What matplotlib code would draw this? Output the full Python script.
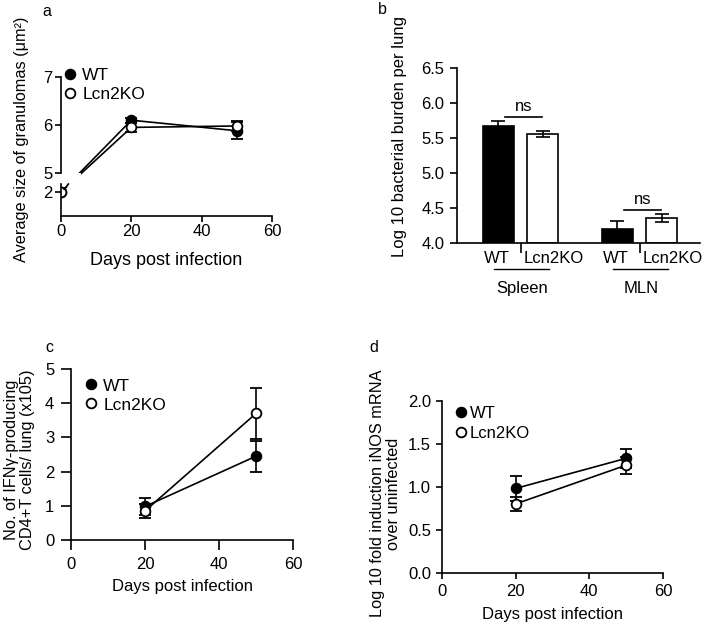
import matplotlib
matplotlib.use("Agg")
import matplotlib.pyplot as plt
from matplotlib.lines import Line2D
from matplotlib.patches import Rectangle

plt.rcParams['font.family'] = ['Liberation Sans', 'DejaVu Sans']

W, H = 704, 627
fig = plt.figure(figsize=(W / 100, H / 100), dpi=100)

def box(x0, x1, ytop, ybot):
    return [x0 / W, 1 - ybot / H, (x1 - x0) / W, (ybot - ytop) / H]

# ---------------- data ----------------
# panel a: granuloma size
a_days = [0, 20, 50]
a_wt = [2.0, 6.10, 5.88]
a_wt_err = [0.0, 0.05, 0.18]
a_ko = [2.0, 5.95, 5.98]
a_ko_err = [0.0, 0.10, 0.10]

# panel b: bacterial burden
b_groups = ["Spleen", "MLN"]
b_labels = ["WT", "Lcn2KO"]
b_wt = [5.67, 4.20]
b_wt_err = [0.08, 0.11]
b_ko = [5.56, 4.36]
b_ko_err = [0.04, 0.06]

# panel c: IFNg producing CD4 T cells
c_days = [20, 50]
c_wt = [0.98, 2.45]
c_wt_err = [0.25, 0.45]
c_ko = [0.85, 3.70]
c_ko_err = [0.20, 0.75]

# panel d: iNOS mRNA
d_days = [20, 50]
d_wt = [0.98, 1.33]
d_wt_err = [0.15, 0.11]
d_ko = [0.80, 1.25]
d_ko_err = [0.08, 0.10]

LW = 1.2
MS = 7

def style(ax, fs, length=4, pad=2):
    for s in ['top', 'right']:
        ax.spines[s].set_visible(False)
    for s in ['left', 'bottom']:
        ax.spines[s].set_linewidth(1.2)
    ax.tick_params(width=1.2, length=length, labelsize=fs, pad=pad)

def legend(ax, x, y, fs, spacing=0.3, tpad=0.15):
    h = [Line2D([], [], ls='none', marker='o', ms=MS, mfc='black', mec='black', mew=1.3),
         Line2D([], [], ls='none', marker='o', ms=MS, mfc='white', mec='black', mew=1.3)]
    ax.legend(h, ["WT", "Lcn2KO"], loc='upper left', bbox_to_anchor=(x, y),
              frameon=False, fontsize=fs, handlelength=0.8, handletextpad=tpad,
              labelspacing=spacing, borderaxespad=0, borderpad=0)

def series(ax, x, y, e, filled, yt=lambda v: v):
    ax.errorbar(x, [yt(v) for v in y], yerr=e, color='black', lw=LW, capsize=4,
                capthick=LW, elinewidth=LW, marker='o', ms=MS,
                mfc='black' if filled else 'white', mec='black', mew=1.3,
                zorder=3 if not filled else 2)

# ---------------- panel a ----------------
ax = fig.add_axes(box(61, 272, 77, 216))
style(ax, 12)
lower = 5 - 19 / 48  # display position of value 2 in broken axis

def ta(v):
    return v if v >= 5 else lower - (2 - v)

series(ax, a_days, a_wt, a_wt_err, True, ta)
series(ax, a_days, a_ko, a_ko_err, False, ta)
ax.set_xlim(0, 60)
ax.set_ylim(5 - 43 / 48, 7)
ax.set_xticks([0, 20, 40, 60])
ax.set_yticks([lower, 5, 6, 7])
ax.set_yticklabels(['2', '5', '6', '7'])
ax.spines['left'].set_visible(False)
ax.plot([0, 0], [5, 7], color='black', lw=1.2, clip_on=False, zorder=5)
ax.plot([0, 0], [5 - 43 / 48, 4.77], color='black', lw=1.2, clip_on=False, zorder=5)
ax.add_patch(Rectangle((0.6, 4.70), 5.2, 0.30, color='white', zorder=4, lw=0))
ax.plot([0.9, 2.1], [4.66, 4.77], color='black', lw=1.2, clip_on=False, zorder=6)
ax.set_xlabel("Days post infection", fontsize=13, labelpad=9)
ax.set_ylabel("Average size of granulomas (μm²)", fontsize=11.7)
ax.yaxis.set_label_coords(-0.15, 0.55)
legend(ax, 0.01, 1.065, 12.5, spacing=0.2, tpad=0.3)

# ---------------- panel b ----------------
ax = fig.add_axes(box(457, 700, 68, 243))
style(ax, 12, length=5, pad=4)
pos_wt = [0, 2.674]
pos_ko = [1, 3.674]
bw = 0.7
ax.bar(pos_wt, [v - 4 for v in b_wt], bottom=4, width=bw, color='black', edgecolor='black', lw=1.2,
       yerr=b_wt_err, error_kw=dict(capsize=5, elinewidth=1.2, capthick=1.2))
ax.bar(pos_ko, [v - 4 for v in b_ko], bottom=4, width=bw, color='white', edgecolor='black', lw=1.2,
       yerr=b_ko_err, error_kw=dict(capsize=5, elinewidth=1.2, capthick=1.2))
ax.set_xlim(-0.93, 4.53)
ax.set_ylim(4.0, 6.5)
ax.set_yticks([4.0, 4.5, 5.0, 5.5, 6.0, 6.5])
ax.set_yticklabels(['4.0', '4.5', '5.0', '5.5', '6.0', '6.5'])
centers = [(a + b) / 2 for a, b in zip(pos_wt, pos_ko)]
ax.set_xticks(centers)
ax.set_xticklabels([])
ax.tick_params(axis='x', length=7)
ax.set_ylabel("Log 10 bacterial burden per lung", fontsize=12)
ax.yaxis.set_label_coords(-0.205, 0.61)
tr = ax.get_xaxis_transform()
for i, (pw, pk) in enumerate(zip(pos_wt, pos_ko)):
    ax.text(pw - 0.04, -0.088, b_labels[0], transform=tr, ha='center', va='center', fontsize=12)
    ax.text(pk + 0.24, -0.088, b_labels[1], transform=tr, ha='center', va='center', fontsize=12)
    ax.plot([pw - 0.1, pk + 0.13], [-0.149, -0.149], transform=tr, color='black', lw=1, clip_on=False)
    ax.text((pw + pk) / 2 + 0.04, -0.258, b_groups[i], transform=tr, ha='center', va='center', fontsize=12)
    top = max(b_wt[i] + b_wt_err[i], b_ko[i] + b_ko_err[i]) + 0.04
    ax.plot([pw + 0.15, pk - 0.03], [top + 0.01, top + 0.01], color='black', lw=1.2)
    ax.text((pw + pk) / 2 + 0.06, top + 0.05, "ns", ha='center', va='bottom', fontsize=12)

# ---------------- panel c ----------------
ax = fig.add_axes(box(71, 293, 369, 540))
style(ax, 12, length=7, pad=5)
series(ax, c_days, c_wt, c_wt_err, True)
series(ax, c_days, c_ko, c_ko_err, False)
ax.set_xlim(0, 60)
ax.set_ylim(0, 5)
ax.set_xticks([0, 20, 40, 60])
ax.set_yticks([0, 1, 2, 3, 4, 5])
ax.set_xlabel("Days post infection", fontsize=12, labelpad=5)
ax.set_ylabel("No. of IFNγ-producing\nCD4+T cells/ lung (x105)", fontsize=11.8,
              linespacing=1.1)
ax.yaxis.set_label_coords(-0.16, 0.47)
legend(ax, 0.06, 0.945, 12.5, spacing=0.22, tpad=0.3)

# ---------------- panel d ----------------
ax = fig.add_axes(box(442, 663, 400.7, 572.7))
style(ax, 12, length=4, pad=4)
series(ax, d_days, d_wt, d_wt_err, True)
series(ax, d_days, d_ko, d_ko_err, False)
ax.set_xlim(0, 60)
ax.set_ylim(0, 2.0)
ax.set_xticks([0, 20, 40, 60])
ax.set_yticks([0.0, 0.5, 1.0, 1.5, 2.0])
ax.set_yticklabels(['0.0', '0.5', '1.0', '1.5', '2.0'])
ax.set_xlabel("Days post infection", fontsize=12, labelpad=6)
ax.set_ylabel("Log 10 fold induction iNOS mRNA\nover uninfected", fontsize=11.8,
              linespacing=1.1)
ax.yaxis.set_label_coords(-0.185, 0.46)
legend(ax, 0.055, 0.97, 12, spacing=0.3)

# panel letters
for t, x, y in [("a", 47, 11), ("b", 382, 10), ("c", 49, 348), ("d", 374, 347)]:
    fig.text(x / W, 1 - y / H, t, ha='center', va='center', fontsize=11.5)

fig.savefig("out.png", dpi=100)
